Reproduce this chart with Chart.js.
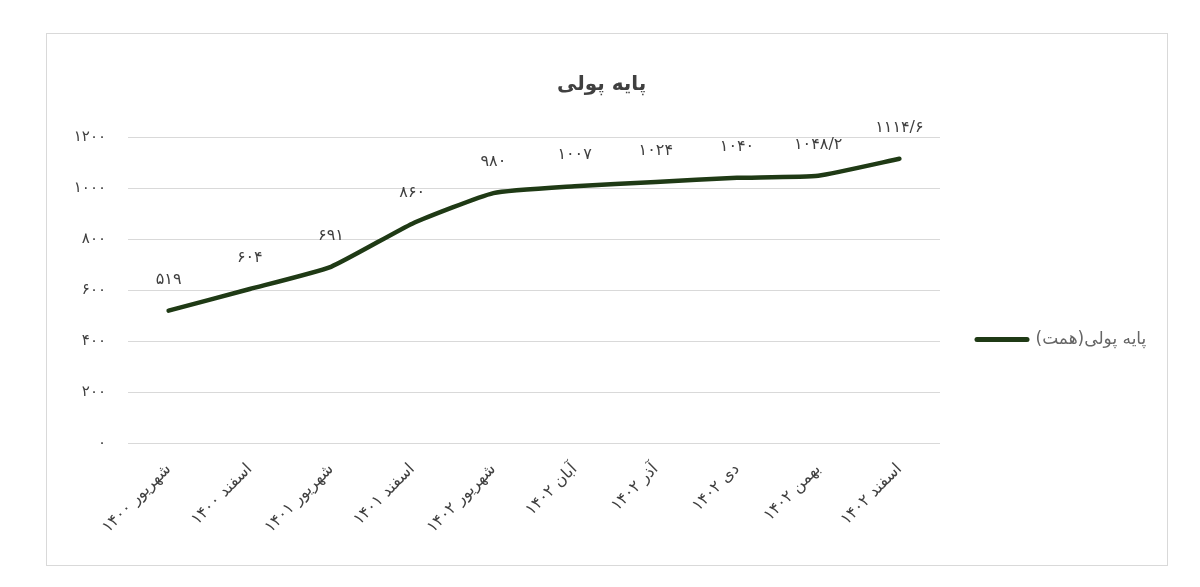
<!DOCTYPE html>
<html lang="fa">
<head>
<meta charset="utf-8">
<script src="https://cdn.jsdelivr.net/npm/chart.js@4.4.1/dist/chart.umd.min.js"></script>
<style>
  html, body { margin: 0; padding: 0; background: #ffffff; }
  #box { position: absolute; left: 46px; top: 33px; width: 1122px; height: 533px; border: 1px solid #d9d9d9; box-sizing: border-box; background: #fff; }
  #c { display: block; }
</style>
</head>
<body>
<div id="box"><canvas id="c"></canvas></div>
<script>
// ---- data ----
const categories = ['شهریور ۱۴۰۰', 'اسفند ۱۴۰۰', 'شهریور ۱۴۰۱', 'اسفند ۱۴۰۱', 'شهریور ۱۴۰۲', 'آبان ۱۴۰۲', 'آذر ۱۴۰۲', 'دی ۱۴۰۲', 'بهمن ۱۴۰۲', 'اسفند ۱۴۰۲'];
const values = [519, 604, 691, 860, 980, 1007, 1024, 1040, 1048.2, 1114.6];
const yTickValues = [0, 200, 400, 600, 800, 1000, 1200];
const seriesLabel = 'پایه پولی(همت)';
const chartTitle = 'پایه پولی';

const FONT = '"DejaVu Sans", sans-serif';
const faDigits = ['۰','۱','۲','۳','۴','۵','۶','۷','۸','۹'];
function toFa(n) {
  return String(n).replace(/[0-9]/g, d => faDigits[+d]).replace('.', '/');
}

// measure legend text to place the chart area's right edge
const mctx = document.createElement('canvas').getContext('2d');
const legendFontSize = 17;
mctx.font = legendFontSize + 'px ' + FONT;
const legendTextW = mctx.measureText(seriesLabel).width;
const legendPad = 37, legendLine = 50;
const legendWidth = legendPad + legendLine + legendFontSize / 2 + legendTextW + 10;
const plotRightInCanvas = 893;
const canvasW = 1120;

const dataLabelPlugin = {
  id: 'dataLabels',
  afterDatasetsDraw(chart) {
    const ctx = chart.ctx;
    const meta = chart.getDatasetMeta(0);
    ctx.save();
    ctx.font = '16px ' + FONT;
    ctx.fillStyle = '#404040';
    ctx.textAlign = 'center';
    ctx.textBaseline = 'middle';
    meta.data.forEach((pt, i) => {
      ctx.fillText(toFa(values[i]), pt.x, pt.y - 31);
    });
    ctx.restore();
  }
};

new Chart(document.getElementById('c'), {
  type: 'line',
  data: {
    labels: categories,
    datasets: [{
      label: seriesLabel,
      data: values,
      borderColor: '#1f3a15',
      backgroundColor: '#1f3a15',
      borderWidth: 4.5,
      borderCapStyle: 'round',
      borderJoinStyle: 'round',
      pointRadius: 0,
      tension: 0.15,
      fill: false
    }]
  },
  options: {
    responsive: true,
    maintainAspectRatio: false,
    animation: false,
    layout: { padding: { left: 0, top: 0, bottom: 0, right: Math.max(0, canvasW - plotRightInCanvas - legendWidth) } },
    plugins: {
      title: {
        display: true,
        text: chartTitle,
        color: '#404040',
        font: { family: FONT, size: 20, weight: 'bold', lineHeight: 1.2 },
        padding: { top: 39, bottom: 40 }
      },
      legend: {
        display: true,
        position: 'right',
        align: 'start',
        fullSize: false,
        title: { display: true, text: '', font: { size: 1, lineHeight: 1 }, padding: { top: 156, bottom: 0 } },
        labels: {
          color: '#404040',
          font: { family: FONT, size: legendFontSize },
          padding: legendPad,
          usePointStyle: true,
          pointStyle: 'line',
          pointStyleWidth: legendLine,
          generateLabels(chart) {
            const ds = chart.data.datasets[0];
            return [{
              text: ds.label,
              fillStyle: ds.borderColor,
              strokeStyle: ds.borderColor,
              lineWidth: 5,
              lineCap: 'round',
              pointStyle: 'line',
              datasetIndex: 0,
              hidden: false
            }];
          }
        }
      },
      tooltip: { enabled: false }
    },
    scales: {
      x: {
        offset: true,
        grid: { display: false, drawTicks: false },
        border: { display: false },
        ticks: {
          color: '#404040',
          font: { family: FONT, size: 16 },
          minRotation: 45,
          maxRotation: 45,
          padding: 17,
          autoSkip: false
        },
        afterFit(scale) { scale.height = 122; }
      },
      y: {
        min: 0,
        max: 1200,
        afterBuildTicks(scale) { scale.ticks = yTickValues.map(v => ({ value: v })); },
        grid: { color: '#d9d9d9', lineWidth: 1, drawTicks: false },
        border: { display: false },
        ticks: {
          color: '#404040',
          font: { family: FONT, size: 15 },
          padding: 22,
          callback: v => toFa(v)
        },
        afterFit(scale) { scale.width = 81; }
      }
    }
  },
  plugins: [dataLabelPlugin]
});
</script>
</body>
</html>
